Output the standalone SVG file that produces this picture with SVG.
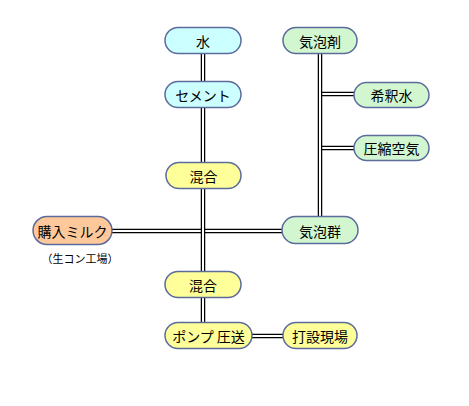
<svg xmlns="http://www.w3.org/2000/svg" width="469" height="406" viewBox="0 0 469 406">
<style>
.n{stroke:#5B6B9B;stroke-width:1.5}
.cy{fill:#CCFFFF}.gr{fill:#D2F7D0}.ye{fill:#FFFF99}.pe{fill:#FFC89A}
text{font-family:"Noto Sans CJK JP","Noto Sans",sans-serif;font-size:14px;fill:#000;text-anchor:middle;dominant-baseline:central}
.o{stroke:#000;stroke-width:4.5;fill:none}
.i{stroke:#fff;stroke-width:2;fill:none}
</style>
<rect width="469" height="406" fill="#fff"/>
<g id="connectors">
<path class="o" d="M112 231H282"/><path class="i" d="M112 231H282"/>
<path class="o" d="M203 53V322"/><path class="i" d="M203 53V322"/>
<path class="o" d="M320 94H354M320 148H354"/><path class="i" d="M320 94H354M320 148H354"/>
<path class="o" d="M320 53V216"/><path class="i" d="M320 53V216"/>
<path class="o" d="M252 336H283"/><path class="i" d="M252 336H283"/>
</g>
<g id="n-water"><rect class="n cy" x="165" y="27.5" width="76" height="26" rx="13"/><text x="203" y="41">水</text></g>
<g id="n-cement"><rect class="n cy" x="165" y="81.5" width="76" height="26" rx="13"/><text x="203" y="95">セメント</text></g>
<g id="n-foam-agent"><rect class="n gr" x="283" y="27.5" width="74" height="26" rx="13"/><text x="320" y="41">気泡剤</text></g>
<g id="n-dilution"><rect class="n gr" x="354" y="82.5" width="75" height="25" rx="12.5"/><text x="391.5" y="95">希釈水</text></g>
<g id="n-air"><rect class="n gr" x="354" y="135.5" width="75" height="25" rx="12.5"/><text x="391.5" y="148">圧縮空気</text></g>
<g id="n-mix1"><rect class="n ye" x="166" y="162.5" width="75" height="26" rx="13"/><text x="203.5" y="176">混合</text></g>
<g id="n-milk"><rect class="n pe" x="33" y="216.5" width="79" height="28" rx="14"/><text x="72.5" y="231">購入ミルク</text><text x="80" y="258" style="font-size:11px">（生コン工場）</text></g>
<g id="n-foam"><rect class="n gr" x="282" y="216.5" width="76" height="27" rx="13.5"/><text x="320" y="230.5">気泡群</text></g>
<g id="n-mix2"><rect class="n ye" x="165" y="271.5" width="76" height="26" rx="13"/><text x="203" y="285">混合</text></g>
<g id="n-pump"><rect class="n ye" x="165" y="322.5" width="87" height="26" rx="13"/><text x="208.5" y="336">ポンプ 圧送</text></g>
<g id="n-site"><rect class="n ye" x="283" y="322.5" width="74" height="26" rx="13"/><text x="320" y="336">打設現場</text></g>
</svg>
